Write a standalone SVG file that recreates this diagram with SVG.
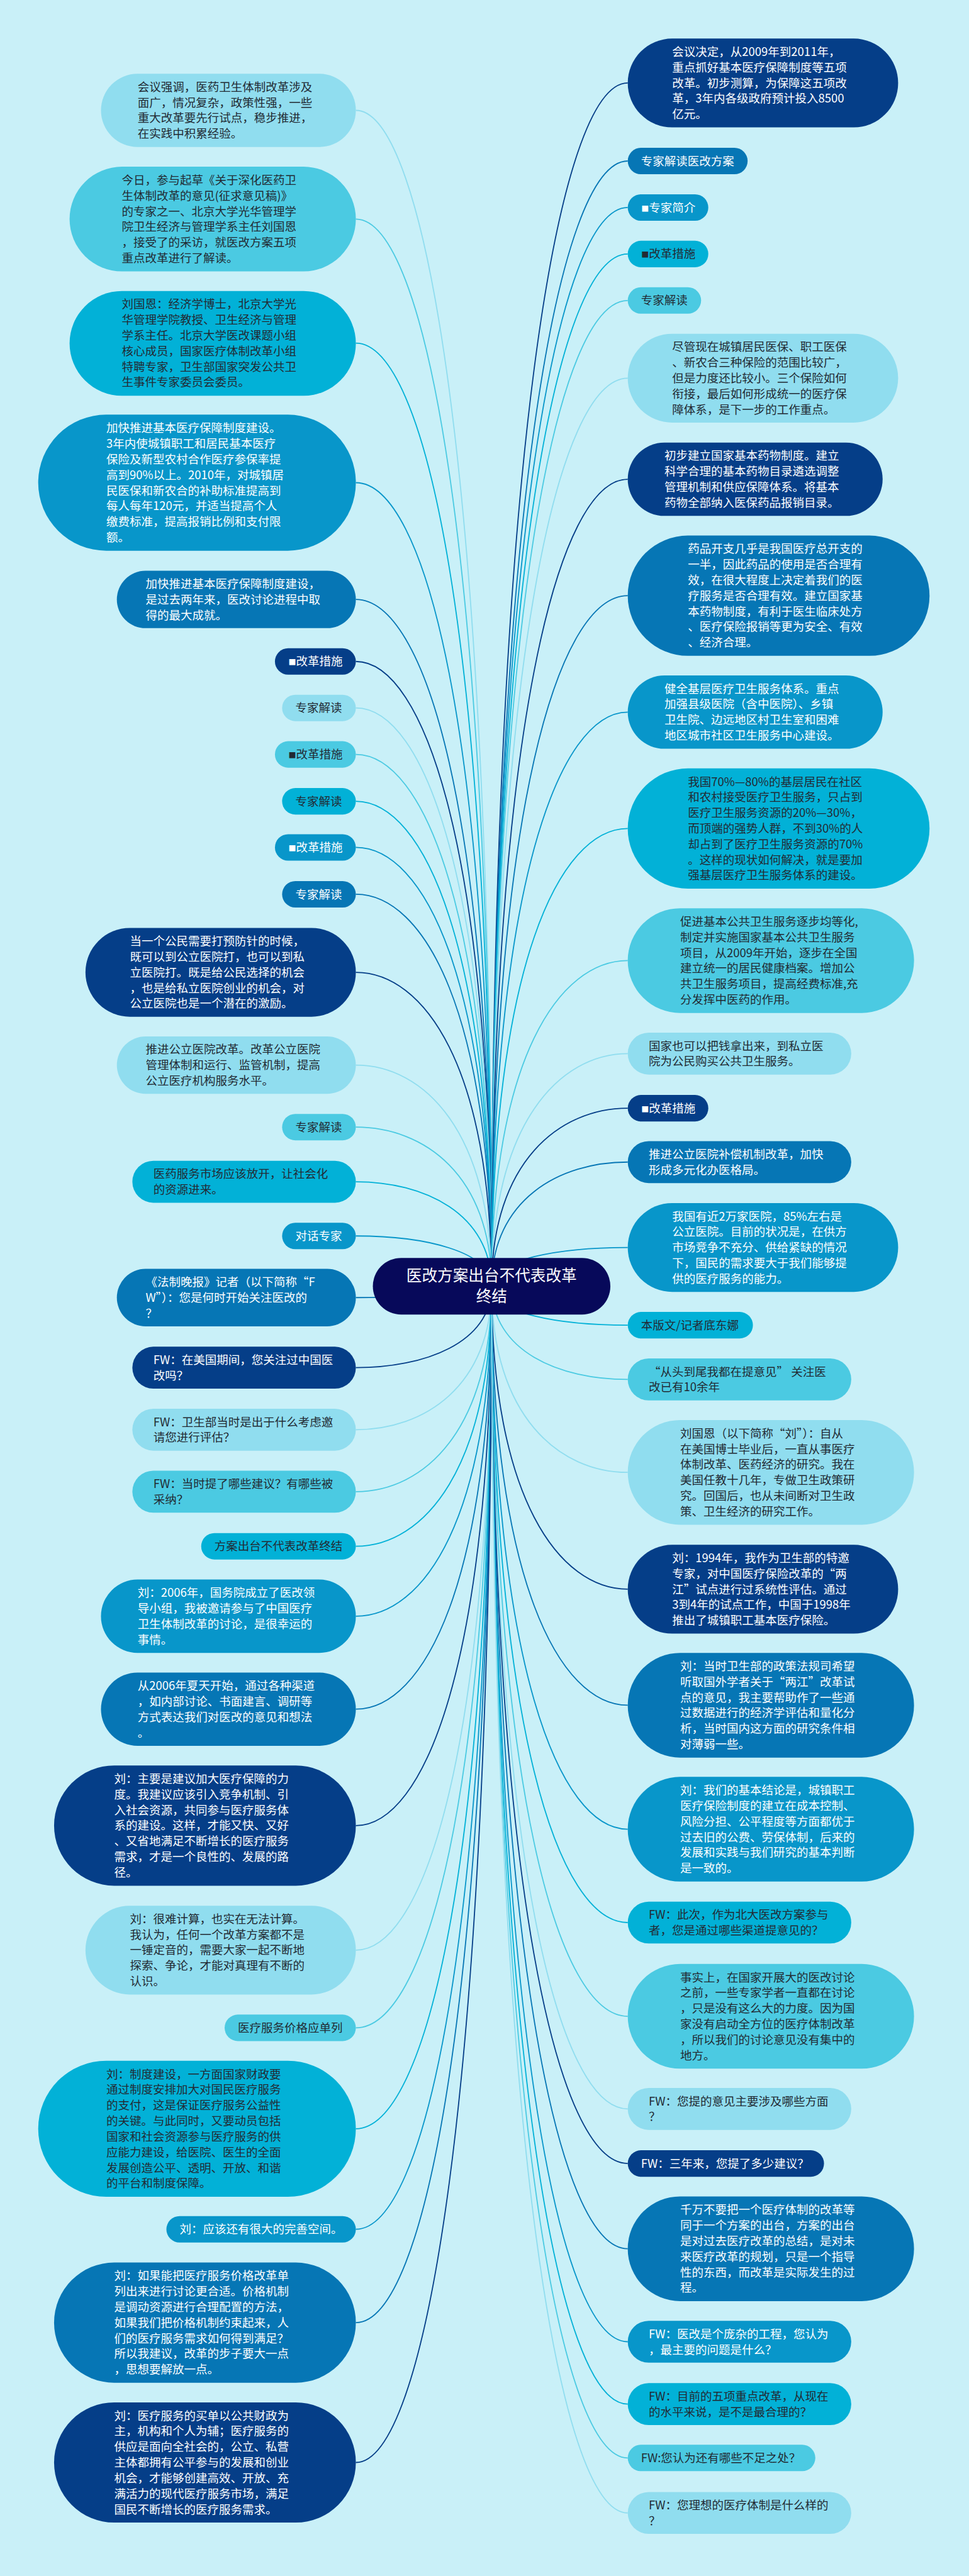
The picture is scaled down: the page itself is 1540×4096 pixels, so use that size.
<svg xmlns="http://www.w3.org/2000/svg" width="1540" height="4096" viewBox="0 0 1540 4096">
<style>
.A{fill:#053e88}.B{fill:#0676b5}.C{fill:#0896ca}.D{fill:#02b1d7}.E{fill:#4bcae2}.F{fill:#90ddef}
.cA{stroke:#053e88}.cB{stroke:#0676b5}.cC{stroke:#0896ca}.cD{stroke:#02b1d7}.cE{stroke:#4bcae2}.cF{stroke:#90ddef}
#links path{fill:none;stroke-width:3}
text{font-family:"Noto Sans CJK SC","Noto Sans",sans-serif;font-size:30.8px}
.tw{fill:#ffffff}.td{fill:#222a33}
.sq{font-size:20px}
.ct{font-size:41px;fill:#ffffff;text-anchor:middle}
</style>
<rect x="0" y="0" width="1540" height="4096" fill="#c9f0f8"/>
<g transform="scale(0.601)">
<g id="links">
<path class="cF" d="M941 292 C1120.5 292 1300 1225.3 1300 3403"/>
<path class="cE" d="M941 579.5 C1120.5 579.5 1300 1426.6 1300 3403"/>
<path class="cD" d="M941 908 C1120.5 908 1300 1656.5 1300 3403"/>
<path class="cC" d="M941 1277 C1120.5 1277 1300 1914.8 1300 3403"/>
<path class="cB" d="M941 1586 C1120.5 1586 1300 2131.1 1300 3403"/>
<path class="cA" d="M941 1750 C1120.5 1750 1300 2245.9 1300 3403"/>
<path class="cF" d="M941 1873 C1120.5 1873 1300 2332 1300 3403"/>
<path class="cE" d="M941 1996 C1120.5 1996 1300 2418.1 1300 3403"/>
<path class="cD" d="M941 2120 C1120.5 2120 1300 2504.9 1300 3403"/>
<path class="cC" d="M941 2242 C1120.5 2242 1300 2590.3 1300 3403"/>
<path class="cB" d="M941 2366 C1120.5 2366 1300 2677.1 1300 3403"/>
<path class="cA" d="M941 2572.5 C1120.5 2572.5 1300 2821.7 1300 3403"/>
<path class="cF" d="M941 2818 C1120.5 2818 1300 2993.5 1300 3403"/>
<path class="cE" d="M941 2982 C1120.5 2982 1300 3108.3 1300 3403"/>
<path class="cD" d="M941 3126.5 C1120.5 3126.5 1300 3209.5 1300 3403"/>
<path class="cC" d="M941 3270 C1120.5 3270 1300 3309.9 1300 3403"/>
<path class="cB" d="M941 3433 C1120.5 3433 1300 3424 1300 3403"/>
<path class="cA" d="M941 3618.5 C1120.5 3618.5 1300 3553.9 1300 3403"/>
<path class="cF" d="M941 3782.5 C1120.5 3782.5 1300 3668.7 1300 3403"/>
<path class="cE" d="M941 3946.5 C1120.5 3946.5 1300 3783.5 1300 3403"/>
<path class="cD" d="M941 4091 C1120.5 4091 1300 3884.6 1300 3403"/>
<path class="cC" d="M941 4276 C1120.5 4276 1300 4014.1 1300 3403"/>
<path class="cB" d="M941 4522 C1120.5 4522 1300 4186.3 1300 3403"/>
<path class="cA" d="M941 4830 C1120.5 4830 1300 4401.9 1300 3403"/>
<path class="cF" d="M941 5159.5 C1120.5 5159.5 1300 4632.6 1300 3403"/>
<path class="cE" d="M941 5365 C1120.5 5365 1300 4776.4 1300 3403"/>
<path class="cD" d="M941 5632 C1120.5 5632 1300 4963.3 1300 3403"/>
<path class="cC" d="M941 5898 C1120.5 5898 1300 5149.5 1300 3403"/>
<path class="cB" d="M941 6145 C1120.5 6145 1300 5322.4 1300 3403"/>
<path class="cA" d="M941 6515 C1120.5 6515 1300 5581.4 1300 3403"/>
<path class="cA" d="M1660 219.5 C1480 219.5 1300 1174.6 1300 3403"/>
<path class="cB" d="M1660 426 C1480 426 1300 1319.1 1300 3403"/>
<path class="cC" d="M1660 549 C1480 549 1300 1405.2 1300 3403"/>
<path class="cD" d="M1660 672 C1480 672 1300 1491.3 1300 3403"/>
<path class="cE" d="M1660 795 C1480 795 1300 1577.4 1300 3403"/>
<path class="cF" d="M1660 1000.5 C1480 1000.5 1300 1721.3 1300 3403"/>
<path class="cA" d="M1660 1268 C1480 1268 1300 1908.5 1300 3403"/>
<path class="cB" d="M1660 1576 C1480 1576 1300 2124.1 1300 3403"/>
<path class="cC" d="M1660 1884 C1480 1884 1300 2339.7 1300 3403"/>
<path class="cD" d="M1660 2192 C1480 2192 1300 2555.3 1300 3403"/>
<path class="cE" d="M1660 2541.5 C1480 2541.5 1300 2800 1300 3403"/>
<path class="cF" d="M1660 2787.5 C1480 2787.5 1300 2972.2 1300 3403"/>
<path class="cA" d="M1660 2932 C1480 2932 1300 3073.3 1300 3403"/>
<path class="cB" d="M1660 3074.5 C1480 3074.5 1300 3173.1 1300 3403"/>
<path class="cC" d="M1660 3300.5 C1480 3300.5 1300 3331.3 1300 3403"/>
<path class="cD" d="M1660 3506 C1480 3506 1300 3475.1 1300 3403"/>
<path class="cE" d="M1660 3649.5 C1480 3649.5 1300 3575.6 1300 3403"/>
<path class="cF" d="M1660 3895.5 C1480 3895.5 1300 3747.8 1300 3403"/>
<path class="cA" d="M1660 4204.5 C1480 4204.5 1300 3964.1 1300 3403"/>
<path class="cB" d="M1660 4511.5 C1480 4511.5 1300 4179 1300 3403"/>
<path class="cC" d="M1660 4839.5 C1480 4839.5 1300 4408.6 1300 3403"/>
<path class="cD" d="M1660 5086.5 C1480 5086.5 1300 4581.5 1300 3403"/>
<path class="cE" d="M1660 5334.5 C1480 5334.5 1300 4755.1 1300 3403"/>
<path class="cF" d="M1660 5579.5 C1480 5579.5 1300 4926.6 1300 3403"/>
<path class="cA" d="M1660 5724 C1480 5724 1300 5027.7 1300 3403"/>
<path class="cB" d="M1660 5949.5 C1480 5949.5 1300 5185.6 1300 3403"/>
<path class="cC" d="M1660 6195.5 C1480 6195.5 1300 5357.8 1300 3403"/>
<path class="cD" d="M1660 6360.5 C1480 6360.5 1300 5473.3 1300 3403"/>
<path class="cE" d="M1660 6503 C1480 6503 1300 5573 1300 3403"/>
<path class="cF" d="M1660 6648.5 C1480 6648.5 1300 5674.9 1300 3403"/>
</g>

<g id="center"><rect x="986" y="3328" width="628" height="150" rx="75" fill="#07095a"/>
<text class="ct"><tspan x="1300" y="3389">医改方案出台不代表改革</tspan><tspan x="1300" y="3444">终结</tspan></text></g>

<g id="L1"><rect class="F" x="267" y="195" width="674" height="194" rx="97"/>
<text class="td"><tspan x="364" y="241">会议强调，医药卫生体制改革涉及</tspan><tspan x="364" y="282.3">面广，情况复杂，政策性强，一些</tspan><tspan x="364" y="323.6">重大改革要先行试点，稳步推进，</tspan><tspan x="364" y="364.9">在实践中积累经验。</tspan></text></g>
<g id="L2"><rect class="E" x="184" y="441" width="757" height="277" rx="138.5"/>
<text class="td"><tspan x="322" y="487.3">今日，参与起草《关于深化医药卫</tspan><tspan x="322" y="528.6">生体制改革的意见(征求意见稿)》</tspan><tspan x="322" y="569.9">的专家之一、北京大学光华管理学</tspan><tspan x="322" y="611.2">院卫生经济与管理学系主任刘国恩</tspan><tspan x="322" y="652.5">，接受了的采访，就医改方案五项</tspan><tspan x="322" y="693.8">重点改革进行了解读。</tspan></text></g>
<g id="L3"><rect class="D" x="184" y="770" width="757" height="277" rx="138.5"/>
<text class="td"><tspan x="322" y="815.8">刘国恩：经济学博士，北京大学光</tspan><tspan x="322" y="857.1">华管理学院教授、卫生经济与管理</tspan><tspan x="322" y="898.4">学系主任。北京大学医改课题小组</tspan><tspan x="322" y="939.7">核心成员，国家医疗体制改革小组</tspan><tspan x="322" y="981">特聘专家，卫生部国家突发公共卫</tspan><tspan x="322" y="1022.3">生事件专家委员会委员。</tspan></text></g>
<g id="L4"><rect class="C" x="101" y="1097" width="840" height="360" rx="180"/>
<text class="tw"><tspan x="281" y="1143.5">加快推进基本医疗保障制度建设。</tspan><tspan x="281" y="1184.8">3年内使城镇职工和居民基本医疗</tspan><tspan x="281" y="1226.1">保险及新型农村合作医疗参保率提</tspan><tspan x="281" y="1267.4">高到90%以上。2010年，对城镇居</tspan><tspan x="281" y="1308.7">民医保和新农合的补助标准提高到</tspan><tspan x="281" y="1350">每人每年120元，并适当提高个人</tspan><tspan x="281" y="1391.3">缴费标准，提高报销比例和支付限</tspan><tspan x="281" y="1432.6">额。</tspan></text></g>
<g id="L5"><rect class="B" x="309" y="1510" width="632" height="152" rx="76"/>
<text class="tw"><tspan x="385" y="1555.7">加快推进基本医疗保障制度建设，</tspan><tspan x="385" y="1597">是过去两年来，医改讨论进程中取</tspan><tspan x="385" y="1638.3">得的最大成就。</tspan></text></g>
<g id="L6"><rect class="A" x="727" y="1715" width="214" height="70" rx="35"/><text class="tw" x="763" y="1761"><tspan class="sq">■</tspan>改革措施</text></g>
<g id="L7"><rect class="F" x="746" y="1838" width="195" height="70" rx="35"/><text class="td" x="781" y="1884">专家解读</text></g>
<g id="L8"><rect class="E" x="727" y="1961" width="214" height="70" rx="35"/><text class="td" x="763" y="2007"><tspan class="sq">■</tspan>改革措施</text></g>
<g id="L9"><rect class="D" x="746" y="2085" width="195" height="70" rx="35"/><text class="td" x="781" y="2131">专家解读</text></g>
<g id="L10"><rect class="C" x="727" y="2207" width="214" height="70" rx="35"/><text class="tw" x="763" y="2253"><tspan class="sq">■</tspan>改革措施</text></g>
<g id="L11"><rect class="B" x="746" y="2331" width="195" height="70" rx="35"/><text class="tw" x="781" y="2377">专家解读</text></g>
<g id="L12"><rect class="A" x="226" y="2455" width="715" height="235" rx="117.5"/>
<text class="tw"><tspan x="343.5" y="2500.9">当一个公民需要打预防针的时候，</tspan><tspan x="343.5" y="2542.2">既可以到公立医院打，也可以到私</tspan><tspan x="343.5" y="2583.5">立医院打。既是给公民选择的机会</tspan><tspan x="343.5" y="2624.8">，也是给私立医院创业的机会，对</tspan><tspan x="343.5" y="2666.1">公立医院也是一个潜在的激励。</tspan></text></g>
<g id="L13"><rect class="F" x="309" y="2742" width="632" height="152" rx="76"/>
<text class="td"><tspan x="385" y="2787.7">推进公立医院改革。改革公立医院</tspan><tspan x="385" y="2829">管理体制和运行、监管机制，提高</tspan><tspan x="385" y="2870.3">公立医疗机构服务水平。</tspan></text></g>
<g id="L14"><rect class="E" x="746" y="2947" width="195" height="70" rx="35"/><text class="td" x="781" y="2993">专家解读</text></g>
<g id="L15"><rect class="D" x="350" y="3071" width="591" height="111" rx="55.5"/>
<text class="td"><tspan x="405.5" y="3116.9">医药服务市场应该放开，让社会化</tspan><tspan x="405.5" y="3158.2">的资源进来。</tspan></text></g>
<g id="L16"><rect class="C" x="746" y="3235" width="195" height="70" rx="35"/><text class="tw" x="781" y="3281">对话专家</text></g>
<g id="L17"><rect class="B" x="309" y="3357" width="632" height="152" rx="76"/>
<text class="tw"><tspan x="385" y="3402.7">《法制晚报》记者（以下简称“F</tspan><tspan x="385" y="3444">W”）：您是何时开始关注医改的</tspan><tspan x="385" y="3485.3">？</tspan></text></g>
<g id="L18"><rect class="A" x="350" y="3563" width="591" height="111" rx="55.5"/>
<text class="tw"><tspan x="405.5" y="3608.9">FW：在美国期间，您关注过中国医</tspan><tspan x="405.5" y="3650.2">改吗？</tspan></text></g>
<g id="L19"><rect class="F" x="350" y="3727" width="591" height="111" rx="55.5"/>
<text class="td"><tspan x="405.5" y="3772.9">FW：卫生部当时是出于什么考虑邀</tspan><tspan x="405.5" y="3814.2">请您进行评估？</tspan></text></g>
<g id="L20"><rect class="E" x="350" y="3891" width="591" height="111" rx="55.5"/>
<text class="td"><tspan x="405.5" y="3936.9">FW：当时提了哪些建议？有哪些被</tspan><tspan x="405.5" y="3978.2">采纳？</tspan></text></g>
<g id="L21"><rect class="D" x="532" y="4056" width="409" height="70" rx="35"/><text class="td" x="567" y="4102">方案出台不代表改革终结</text></g>
<g id="L22"><rect class="C" x="267" y="4179" width="674" height="194" rx="97"/>
<text class="tw"><tspan x="364" y="4225">刘：2006年，国务院成立了医改领</tspan><tspan x="364" y="4266.3">导小组，我被邀请参与了中国医疗</tspan><tspan x="364" y="4307.6">卫生体制改革的讨论，是很幸运的</tspan><tspan x="364" y="4348.9">事情。</tspan></text></g>
<g id="L23"><rect class="B" x="267" y="4425" width="674" height="194" rx="97"/>
<text class="tw"><tspan x="364" y="4471">从2006年夏天开始，通过各种渠道</tspan><tspan x="364" y="4512.3">，如内部讨论、书面建言、调研等</tspan><tspan x="364" y="4553.6">方式表达我们对医改的意见和想法</tspan><tspan x="364" y="4594.9">。</tspan></text></g>
<g id="L24"><rect class="A" x="143" y="4671" width="798" height="318" rx="159"/>
<text class="tw"><tspan x="302" y="4717.1">刘：主要是建议加大医疗保障的力</tspan><tspan x="302" y="4758.4">度。我建议应该引入竞争机制、引</tspan><tspan x="302" y="4799.7">入社会资源，共同参与医疗服务体</tspan><tspan x="302" y="4841">系的建设。这样，才能又快、又好</tspan><tspan x="302" y="4882.3">、又省地满足不断增长的医疗服务</tspan><tspan x="302" y="4923.6">需求，才是一个良性的、发展的路</tspan><tspan x="302" y="4964.9">径。</tspan></text></g>
<g id="L25"><rect class="F" x="226" y="5042" width="715" height="235" rx="117.5"/>
<text class="td"><tspan x="343.5" y="5087.9">刘：很难计算，也实在无法计算。</tspan><tspan x="343.5" y="5129.2">我认为，任何一个改革方案都不是</tspan><tspan x="343.5" y="5170.5">一锤定音的，需要大家一起不断地</tspan><tspan x="343.5" y="5211.8">探索、争论，才能对真理有不断的</tspan><tspan x="343.5" y="5253.1">认识。</tspan></text></g>
<g id="L26"><rect class="E" x="594" y="5330" width="347" height="70" rx="35"/><text class="td" x="629" y="5376">医疗服务价格应单列</text></g>
<g id="L27"><rect class="D" x="101" y="5452" width="840" height="360" rx="180"/>
<text class="td"><tspan x="281" y="5498.5">刘：制度建设，一方面国家财政要</tspan><tspan x="281" y="5539.8">通过制度安排加大对国民医疗服务</tspan><tspan x="281" y="5581.1">的支付，这是保证医疗服务公益性</tspan><tspan x="281" y="5622.4">的关键。与此同时，又要动员包括</tspan><tspan x="281" y="5663.7">国家和社会资源参与医疗服务的供</tspan><tspan x="281" y="5705">应能力建设，给医院、医生的全面</tspan><tspan x="281" y="5746.3">发展创造公平、透明、开放、和谐</tspan><tspan x="281" y="5787.6">的平台和制度保障。</tspan></text></g>
<g id="L28"><rect class="C" x="440" y="5863" width="501" height="70" rx="35"/><text class="tw" x="475" y="5909">刘：应该还有很大的完善空间。</text></g>
<g id="L29"><rect class="B" x="143" y="5986" width="798" height="318" rx="159"/>
<text class="tw"><tspan x="302" y="6032.1">刘：如果能把医疗服务价格改革单</tspan><tspan x="302" y="6073.4">列出来进行讨论更合适。价格机制</tspan><tspan x="302" y="6114.7">是调动资源进行合理配置的方法，</tspan><tspan x="302" y="6156">如果我们把价格机制约束起来，人</tspan><tspan x="302" y="6197.3">们的医疗服务需求如何得到满足？</tspan><tspan x="302" y="6238.6">所以我建议，改革的步子要大一点</tspan><tspan x="302" y="6279.9">，思想要解放一点。</tspan></text></g>
<g id="L30"><rect class="A" x="143" y="6356" width="798" height="318" rx="159"/>
<text class="tw"><tspan x="302" y="6402.1">刘：医疗服务的买单以公共财政为</tspan><tspan x="302" y="6443.4">主，机构和个人为辅；医疗服务的</tspan><tspan x="302" y="6484.7">供应是面向全社会的，公立、私营</tspan><tspan x="302" y="6526">主体都拥有公平参与的发展和创业</tspan><tspan x="302" y="6567.3">机会，才能够创建高效、开放、充</tspan><tspan x="302" y="6608.6">满活力的现代医疗服务市场，满足</tspan><tspan x="302" y="6649.9">国民不断增长的医疗服务需求。</tspan></text></g>

<g id="R1"><rect class="A" x="1660" y="102" width="715" height="235" rx="117.5"/>
<text class="tw"><tspan x="1777.5" y="147.9">会议决定，从2009年到2011年，</tspan><tspan x="1777.5" y="189.2">重点抓好基本医疗保障制度等五项</tspan><tspan x="1777.5" y="230.5">改革。初步测算，为保障这五项改</tspan><tspan x="1777.5" y="271.8">革，3年内各级政府预计投入8500</tspan><tspan x="1777.5" y="313.1">亿元。</tspan></text></g>
<g id="R2"><rect class="B" x="1660" y="391" width="317" height="70" rx="35"/><text class="tw" x="1695" y="437">专家解读医改方案</text></g>
<g id="R3"><rect class="C" x="1660" y="514" width="213" height="70" rx="35"/><text class="tw" x="1696" y="560"><tspan class="sq">■</tspan>专家简介</text></g>
<g id="R4"><rect class="D" x="1660" y="637" width="213" height="70" rx="35"/><text class="td" x="1696" y="683"><tspan class="sq">■</tspan>改革措施</text></g>
<g id="R5"><rect class="E" x="1660" y="760" width="194" height="70" rx="35"/><text class="td" x="1695" y="806">专家解读</text></g>
<g id="R6"><rect class="F" x="1660" y="883" width="715" height="235" rx="117.5"/>
<text class="td"><tspan x="1777.5" y="928.9">尽管现在城镇居民医保、职工医保</tspan><tspan x="1777.5" y="970.2">、新农合三种保险的范围比较广，</tspan><tspan x="1777.5" y="1011.5">但是力度还比较小。三个保险如何</tspan><tspan x="1777.5" y="1052.8">衔接，最后如何形成统一的医疗保</tspan><tspan x="1777.5" y="1094.1">障体系，是下一步的工作重点。</tspan></text></g>
<g id="R7"><rect class="A" x="1660" y="1171" width="674" height="194" rx="97"/>
<text class="tw"><tspan x="1757" y="1217">初步建立国家基本药物制度。建立</tspan><tspan x="1757" y="1258.3">科学合理的基本药物目录遴选调整</tspan><tspan x="1757" y="1299.6">管理机制和供应保障体系。将基本</tspan><tspan x="1757" y="1340.9">药物全部纳入医保药品报销目录。</tspan></text></g>
<g id="R8"><rect class="B" x="1660" y="1417" width="798" height="318" rx="159"/>
<text class="tw"><tspan x="1819" y="1463.1">药品开支几乎是我国医疗总开支的</tspan><tspan x="1819" y="1504.4">一半，因此药品的使用是否合理有</tspan><tspan x="1819" y="1545.7">效，在很大程度上决定着我们的医</tspan><tspan x="1819" y="1587">疗服务是否合理有效。建立国家基</tspan><tspan x="1819" y="1628.3">本药物制度，有利于医生临床处方</tspan><tspan x="1819" y="1669.6">、医疗保险报销等更为安全、有效</tspan><tspan x="1819" y="1710.9">、经济合理。</tspan></text></g>
<g id="R9"><rect class="C" x="1660" y="1787" width="674" height="194" rx="97"/>
<text class="tw"><tspan x="1757" y="1833">健全基层医疗卫生服务体系。重点</tspan><tspan x="1757" y="1874.3">加强县级医院（含中医院）、乡镇</tspan><tspan x="1757" y="1915.6">卫生院、边远地区村卫生室和困难</tspan><tspan x="1757" y="1956.9">地区城市社区卫生服务中心建设。</tspan></text></g>
<g id="R10"><rect class="D" x="1660" y="2033" width="798" height="318" rx="159"/>
<text class="td"><tspan x="1819" y="2079.1">我国70%—80%的基层居民在社区</tspan><tspan x="1819" y="2120.4">和农村接受医疗卫生服务，只占到</tspan><tspan x="1819" y="2161.7">医疗卫生服务资源的20%—30%，</tspan><tspan x="1819" y="2203">而顶端的强势人群，不到30%的人</tspan><tspan x="1819" y="2244.3">却占到了医疗卫生服务资源的70%</tspan><tspan x="1819" y="2285.6">。这样的现状如何解决，就是要加</tspan><tspan x="1819" y="2326.9">强基层医疗卫生服务体系的建设。</tspan></text></g>
<g id="R11"><rect class="E" x="1660" y="2403" width="757" height="277" rx="138.5"/>
<text class="td"><tspan x="1798.5" y="2449.3">促进基本公共卫生服务逐步均等化,</tspan><tspan x="1798.5" y="2490.6">制定并实施国家基本公共卫生服务</tspan><tspan x="1798.5" y="2531.9">项目，从2009年开始，逐步在全国</tspan><tspan x="1798.5" y="2573.2">建立统一的居民健康档案。增加公</tspan><tspan x="1798.5" y="2614.5">共卫生服务项目，提高经费标准,充</tspan><tspan x="1798.5" y="2655.8">分发挥中医药的作用。</tspan></text></g>
<g id="R12"><rect class="F" x="1660" y="2732" width="591" height="111" rx="55.5"/>
<text class="td"><tspan x="1715.5" y="2777.9">国家也可以把钱拿出来，到私立医</tspan><tspan x="1715.5" y="2819.2">院为公民购买公共卫生服务。</tspan></text></g>
<g id="R13"><rect class="A" x="1660" y="2897" width="213" height="70" rx="35"/><text class="tw" x="1696" y="2943"><tspan class="sq">■</tspan>改革措施</text></g>
<g id="R14"><rect class="B" x="1660" y="3019" width="591" height="111" rx="55.5"/>
<text class="tw"><tspan x="1715.5" y="3064.9">推进公立医院补偿机制改革，加快</tspan><tspan x="1715.5" y="3106.2">形成多元化办医格局。</tspan></text></g>
<g id="R15"><rect class="C" x="1660" y="3183" width="715" height="235" rx="117.5"/>
<text class="tw"><tspan x="1777.5" y="3228.9">我国有近2万家医院，85%左右是</tspan><tspan x="1777.5" y="3270.2">公立医院。目前的状况是，在供方</tspan><tspan x="1777.5" y="3311.5">市场竞争不充分、供给紧缺的情况</tspan><tspan x="1777.5" y="3352.8">下，国民的需求要大于我们能够提</tspan><tspan x="1777.5" y="3394.1">供的医疗服务的能力。</tspan></text></g>
<g id="R16"><rect class="D" x="1660" y="3471" width="331" height="70" rx="35"/><text class="td" x="1695" y="3517">本版文/记者底东娜</text></g>
<g id="R17"><rect class="E" x="1660" y="3594" width="591" height="111" rx="55.5"/>
<text class="td"><tspan x="1715.5" y="3639.9">“从头到尾我都在提意见” 关注医</tspan><tspan x="1715.5" y="3681.2">改已有10余年</tspan></text></g>
<g id="R18"><rect class="F" x="1660" y="3757" width="757" height="277" rx="138.5"/>
<text class="td"><tspan x="1798.5" y="3803.3">刘国恩（以下简称“刘”）：自从</tspan><tspan x="1798.5" y="3844.6">在美国博士毕业后，一直从事医疗</tspan><tspan x="1798.5" y="3885.9">体制改革、医药经济的研究。我在</tspan><tspan x="1798.5" y="3927.2">美国任教十几年，专做卫生政策研</tspan><tspan x="1798.5" y="3968.5">究。回国后，也从未间断对卫生政</tspan><tspan x="1798.5" y="4009.8">策、卫生经济的研究工作。</tspan></text></g>
<g id="R19"><rect class="A" x="1660" y="4087" width="715" height="235" rx="117.5"/>
<text class="tw"><tspan x="1777.5" y="4132.9">刘：1994年，我作为卫生部的特邀</tspan><tspan x="1777.5" y="4174.2">专家，对中国医疗保险改革的“两</tspan><tspan x="1777.5" y="4215.5">江”试点进行过系统性评估。通过</tspan><tspan x="1777.5" y="4256.8">3到4年的试点工作，中国于1998年</tspan><tspan x="1777.5" y="4298.1">推出了城镇职工基本医疗保险。</tspan></text></g>
<g id="R20"><rect class="B" x="1660" y="4373" width="757" height="277" rx="138.5"/>
<text class="tw"><tspan x="1798.5" y="4419.3">刘：当时卫生部的政策法规司希望</tspan><tspan x="1798.5" y="4460.6">听取国外学者关于“两江”改革试</tspan><tspan x="1798.5" y="4501.9">点的意见，我主要帮助作了一些通</tspan><tspan x="1798.5" y="4543.2">过数据进行的经济学评估和量化分</tspan><tspan x="1798.5" y="4584.5">析，当时国内这方面的研究条件相</tspan><tspan x="1798.5" y="4625.8">对薄弱一些。</tspan></text></g>
<g id="R21"><rect class="C" x="1660" y="4701" width="757" height="277" rx="138.5"/>
<text class="tw"><tspan x="1798.5" y="4747.3">刘：我们的基本结论是，城镇职工</tspan><tspan x="1798.5" y="4788.6">医疗保险制度的建立在成本控制、</tspan><tspan x="1798.5" y="4829.9">风险分担、公平程度等方面都优于</tspan><tspan x="1798.5" y="4871.2">过去旧的公费、劳保体制，后来的</tspan><tspan x="1798.5" y="4912.5">发展和实践与我们研究的基本判断</tspan><tspan x="1798.5" y="4953.8">是一致的。</tspan></text></g>
<g id="R22"><rect class="D" x="1660" y="5031" width="591" height="111" rx="55.5"/>
<text class="td"><tspan x="1715.5" y="5076.9">FW：此次，作为北大医改方案参与</tspan><tspan x="1715.5" y="5118.2">者，您是通过哪些渠道提意见的？</tspan></text></g>
<g id="R23"><rect class="E" x="1660" y="5196" width="757" height="277" rx="138.5"/>
<text class="td"><tspan x="1798.5" y="5242.3">事实上，在国家开展大的医改讨论</tspan><tspan x="1798.5" y="5283.6">之前，一些专家学者一直都在讨论</tspan><tspan x="1798.5" y="5324.9">，只是没有这么大的力度。因为国</tspan><tspan x="1798.5" y="5366.2">家没有启动全方位的医疗体制改革</tspan><tspan x="1798.5" y="5407.5">，所以我们的讨论意见没有集中的</tspan><tspan x="1798.5" y="5448.8">地方。</tspan></text></g>
<g id="R24"><rect class="F" x="1660" y="5524" width="591" height="111" rx="55.5"/>
<text class="td"><tspan x="1715.5" y="5569.9">FW：您提的意见主要涉及哪些方面</tspan><tspan x="1715.5" y="5611.2">？</tspan></text></g>
<g id="R25"><rect class="A" x="1660" y="5689" width="519" height="70" rx="35"/><text class="tw" x="1695" y="5735">FW：三年来，您提了多少建议？</text></g>
<g id="R26"><rect class="B" x="1660" y="5811" width="757" height="277" rx="138.5"/>
<text class="tw"><tspan x="1798.5" y="5857.3">千万不要把一个医疗体制的改革等</tspan><tspan x="1798.5" y="5898.6">同于一个方案的出台，方案的出台</tspan><tspan x="1798.5" y="5939.9">是对过去医疗改革的总结，是对未</tspan><tspan x="1798.5" y="5981.2">来医疗改革的规划，只是一个指导</tspan><tspan x="1798.5" y="6022.5">性的东西，而改革是实际发生的过</tspan><tspan x="1798.5" y="6063.8">程。</tspan></text></g>
<g id="R27"><rect class="C" x="1660" y="6140" width="591" height="111" rx="55.5"/>
<text class="tw"><tspan x="1715.5" y="6185.9">FW：医改是个庞杂的工程，您认为</tspan><tspan x="1715.5" y="6227.2">，最主要的问题是什么？</tspan></text></g>
<g id="R28"><rect class="D" x="1660" y="6305" width="591" height="111" rx="55.5"/>
<text class="td"><tspan x="1715.5" y="6350.9">FW：目前的五项重点改革，从现在</tspan><tspan x="1715.5" y="6392.2">的水平来说，是不是最合理的？</tspan></text></g>
<g id="R29"><rect class="E" x="1660" y="6468" width="496" height="70" rx="35"/><text class="td" x="1695" y="6514">FW:您认为还有哪些不足之处？</text></g>
<g id="R30"><rect class="F" x="1660" y="6593" width="591" height="111" rx="55.5"/>
<text class="td"><tspan x="1715.5" y="6638.9">FW：您理想的医疗体制是什么样的</tspan><tspan x="1715.5" y="6680.2">？</tspan></text></g>
</g>
</svg>
